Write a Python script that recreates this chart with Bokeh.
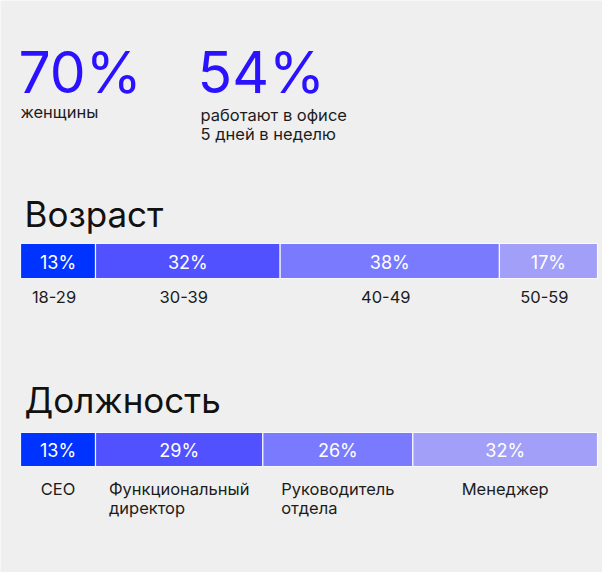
from bokeh.plotting import figure
from bokeh.models import Range1d, ColumnDataSource, Label
from bokeh.core.properties import value
from bokeh.embed import file_html
from bokeh.resources import INLINE

# ---- data ----
stat_values = ["70%", "54%"]
stat_labels = ["женщины", "работают в офисе\n5 дней в неделю"]

age_title = "Возраст"
age_groups = ["18-29", "30-39", "40-49", "50-59"]
age_shares = [13, 32, 38, 17]

role_title = "Должность"
roles = ["CEO", "Функциональный\nдиректор", "Руководитель\nотдела", "Менеджер"]
role_shares = [13, 29, 26, 32]

colors = ["#0033ff", "#5151ff", "#7a7aff", "#a19ff8"]

# ---- layout ----
W, H = 602, 572
BG = "#efefef"
FONT = "Inter"
DARK = "#1c1c1c"
BLUE = "#2a12ff"
X0, X1 = 20.0, 597.0           # pixel positions of 0 % and 100 %
K = (X1 - X0) / 100.0          # pixels per percent

p = figure(width=W, height=H, output_backend="svg", toolbar_location=None,
           x_axis_type=None, y_axis_type=None,
           x_range=Range1d(-X0 / K, (W - X0) / K), y_range=Range1d(H, 0),
           min_border=0, background_fill_color=BG, border_fill_color=BG,
           outline_line_color=None)
p.grid.visible = False

# headline stats
stat_x = [18, 197]
lab_x = [20, 200]
lab_y = [111, 124]
for i, (v, lab) in enumerate(zip(stat_values, stat_labels)):
    p.add_layout(Label(x=stat_x[i], y=72, x_units="screen", text=v,
                       text_font=FONT, text_font_size="57px", text_color=BLUE,
                       text_baseline="alphabetic", text_align="left"))
    p.add_layout(Label(x=lab_x[i], y=lab_y[i], x_units="screen",
                       text=lab, text_font=FONT, text_font_size="16.5px",
                       text_color=DARK, text_baseline="alphabetic",
                       text_align="left", text_line_height=0.96))


def section(title, cats, shares, title_y, bar_y, bar_h, lab_top, lab_dx):
    p.add_layout(Label(x=24, y=title_y, x_units="screen", text=title,
                       text_font=FONT, text_font_size="35px", text_color="#111111",
                       text_baseline="alphabetic", text_align="left"))
    left, right = [], []
    acc = 0
    for s in shares:
        left.append(acc)
        acc += s
        right.append(acc)
    mid = [(a + b) / 2 for a, b in zip(left, right)]
    src = ColumnDataSource(dict(left=left, right=right, mid=mid,
                                y=[bar_y] * len(shares),
                                ty=[bar_y + 1] * len(shares),
                                ly=[lab_top] * len(shares),
                                pct=[f"{s}%" for s in shares],
                                cat=cats, color=colors[:len(shares)]))
    p.hbar(y="y", height=bar_h, left="left", right="right", source=src,
           fill_color="color", line_color="#ffffff", line_width=1.2, line_alpha=0.9)
    p.text(x="mid", y="ty", text="pct", source=src, text_color="#ffffff",
           text_font=value(FONT), text_font_size="18px",
           text_align="center", text_baseline="middle")
    p.text(x="mid", y="ly", text="cat", source=src, text_color=DARK,
           text_font=value(FONT), text_font_size="16.5px",
           text_align="left", anchor=value("top_center"),
           text_line_height=0.96, x_offset=lab_dx)


section(age_title, age_groups, age_shares, 213, 260.5, 35, 290, -4)
section(role_title, roles, role_shares, 399, 449, 34, 478, 0)

open("out.html", "w").write(file_html(p, INLINE))
